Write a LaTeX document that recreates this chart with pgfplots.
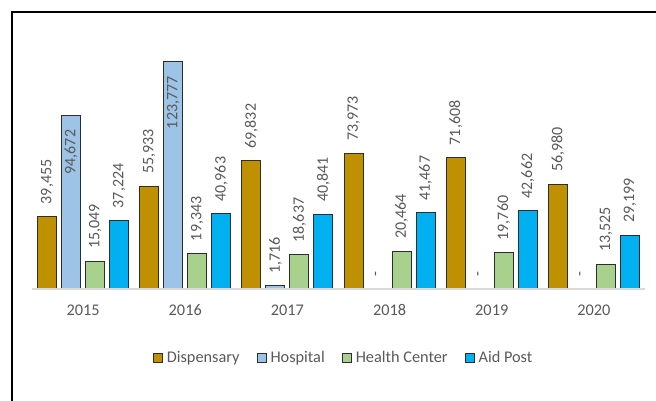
\documentclass[border=0pt]{standalone}
\usepackage{pgfplots}
\pgfplotsset{compat=1.18}
\usepackage{pgfplotstable}
\usepackage{fontspec}
\setmainfont{Carlito}

\definecolor{disp}{RGB}{191,144,0}
\definecolor{hosp}{RGB}{157,195,230}
\definecolor{hc}{RGB}{169,209,142}
\definecolor{aid}{RGB}{0,176,240}
\definecolor{txt}{RGB}{89,89,89}
\definecolor{edge}{RGB}{45,45,45}
\definecolor{baseln}{RGB}{217,217,217}

\pgfplotstableread{
x disp  hosp   hc    aid
0 39455 94672  15049 37224
1 55933 123777 19343 40963
2 69832 1716   18637 40841
3 73973 0      20464 41467
4 71608 0      19760 42662
5 56980 0      13525 29199
}\datatable

% zero shows as a dash, like excel
\newcommand{\barlab}{\pgfmathfloatifflags{\pgfplotspointmeta}{0}{-}{\pgfmathprintnumber[fixed,precision=0,1000 sep={,}]{\pgfplotspointmeta}}}
% tall hospital bars get the label inside the bar
\newcommand{\hosplab}{%
  \pgfmathfloatparsenumber{80000}\let\thr\pgfmathresult
  \pgfmathfloatlessthan{\pgfplotspointmeta}{\thr}%
  \ifpgfmathfloatcomparison\barlab\else\llap{\barlab\hspace{27pt}}\fi}

\begin{document}
\begin{tikzpicture}
\path[use as bounding box] (0pt,0pt) rectangle (656pt,401pt);
\draw[line width=1.5pt] (12pt,0pt) -- (12pt,389pt) -- (656pt,389pt);
\begin{axis}[
    at={(32pt,112pt)}, anchor=south west,
    scale only axis,
    width=613pt, height=259pt,
    xmin=-0.5, xmax=5.5,
    ymin=0, ymax=141200,
    enlargelimits=false,
    hide y axis,
    axis x line*=bottom,
    axis on top,
    /pgf/number format/assume math mode=true,
    x axis line style={draw=baseln, line width=1.2pt},
    xtick={0,1,2,3,4,5},
    xticklabel={\pgfmathtruncatemacro{\yr}{2015+\tick}\yr},
    major tick length=0pt,
    xticklabel style={font=\fontsize{16.3}{19}\selectfont, text=txt, yshift=-12pt},
    ybar=5pt, bar width=19pt,
    nodes near coords=\barlab,
    nodes near coords style={rotate=90, anchor=west, inner xsep=12pt, inner ysep=0pt,
        font=\fontsize{16}{19}\selectfont, text=txt},
    legend style={at={(0.51,-0.266)}, anchor=center, draw=none, fill=none,
        legend columns=4, font=\fontsize{16.3}{19}\selectfont, text=txt,
        nodes={inner ysep=2pt, inner xsep=3.5pt},
        /tikz/every even column/.append style={column sep=14pt}},
    legend image code/.code={\draw[#1, line width=1pt] (0pt,-4.5pt) rectangle (9pt,4.5pt);},
]
\addplot[fill=disp, draw=edge, line width=1pt] table[x=x, y=disp] {\datatable};
\addlegendentry{Dispensary}
\addplot[fill=hosp, draw=edge, line width=1pt, nodes near coords=\hosplab] table[x=x, y=hosp] {\datatable};
\addlegendentry{Hospital}
\addplot[fill=hc, draw=edge, line width=1pt] table[x=x, y=hc] {\datatable};
\addlegendentry{Health Center}
\addplot[fill=aid, draw=edge, line width=1pt] table[x=x, y=aid] {\datatable};
\addlegendentry{Aid Post}
\end{axis}
\end{tikzpicture}
\end{document}
